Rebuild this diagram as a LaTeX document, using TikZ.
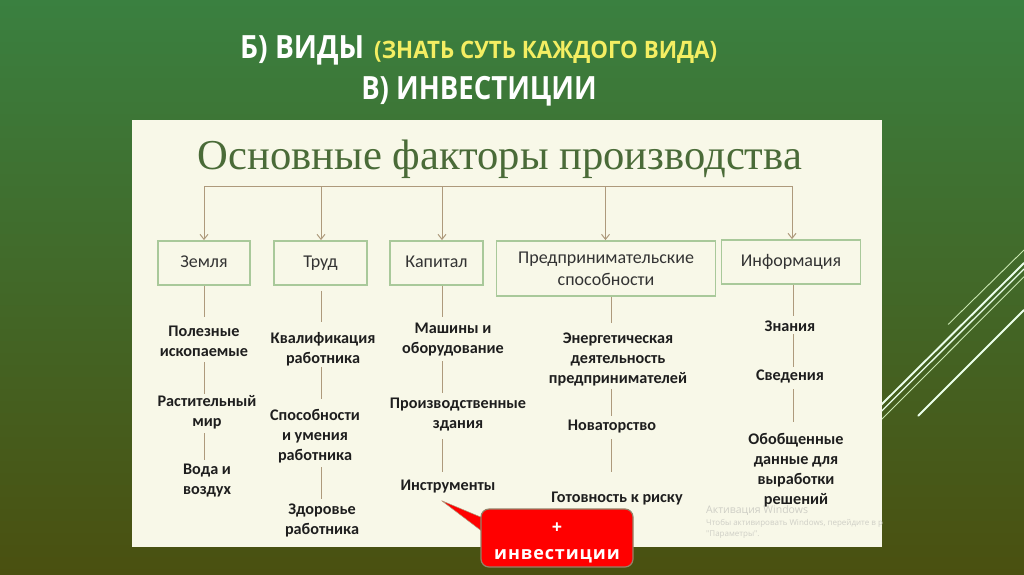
\documentclass[tikz,border=0pt]{standalone}
\usepackage{fontspec}
\setmainfont{Carlito}
\newfontfamily\hdfont{Open Sans}
\newfontfamily\serfont{Liberation Serif}
\usetikzlibrary{arrows.meta,calc}
\definecolor{bgA}{HTML}{3A8040}
\definecolor{bgB}{HTML}{466E28}
\definecolor{bgC}{HTML}{4A5010}
\definecolor{panel}{HTML}{F8F8E8}
\definecolor{boxline}{HTML}{A9C99A}
\definecolor{tan}{HTML}{AE9A7C}
\definecolor{ttl}{HTML}{4A6B38}
\definecolor{ylw}{HTML}{F4EE62}
\definecolor{pale}{HTML}{C8E6B0}
\definecolor{wm}{HTML}{CFCFC6}
\definecolor{ink}{HTML}{1E1E1E}
\definecolor{ink2}{HTML}{333333}
\tikzset{
  catbox/.style={draw=boxline,line width=1.8pt,fill=panel,inner sep=0pt,align=center,text=ink2,
    font=\fontsize{18}{22}\selectfont},
  item/.style={inner sep=0pt,align=center,text=ink,yshift=-1.5pt,font=\fontsize{16.2}{20}\selectfont\bfseries},
  one/.style={item,minimum height=18pt},
  two/.style={item,minimum height=38pt},
  three/.style={item,minimum height=58pt},
  four/.style={item,minimum height=78pt},
  arr/.style={draw=tan,line width=1pt,-{Straight Barb[length=5pt,width=8pt]}},
  stem/.style={draw=tan,line width=1pt},
  slash/.style={line cap=round}
}
\newcommand{\stemline}[5]{\draw[stem,shorten <=#4pt,shorten >=#5pt] (#1.south -| #3) -- (#2.north -| #3);}
\begin{document}
\begin{tikzpicture}[x=1pt,y=-1pt]
\useasboundingbox (0,0) rectangle (1024,574);
\shade[top color=bgA,middle color=bgB,bottom color=bgC] (0,0) rectangle (1024,574);
% decorative lines
\draw[white!92!green,line width=1.9pt,slash] (881,405) -- (1024,263);
\draw[white!92!green,line width=1.3pt,slash] (881,411.7) -- (1024,269);
\draw[pale,line width=0.9pt,slash] (881,420) -- (1024,276.7);
\draw[pale,line width=0.9pt,slash] (948.3,324.3) -- (1024,250);
\draw[white!92!green,line width=1.9pt,slash] (918.3,415.7) -- (1024,310);
% heading
\node[anchor=base west,inner sep=0pt,text=white,font=\hdfont\bfseries\fontsize{32}{38}\selectfont] (hA) at (240,58) {\scalebox{.88}[1]{Б) ВИДЫ}};
\node[anchor=base west,inner sep=0pt,text=ylw,font=\hdfont\bfseries\fontsize{24}{30}\selectfont] (hB) at (374,58) {\scalebox{.93}[1]{(ЗНАТЬ СУТЬ КАЖДОГО ВИДА)}};
\node[anchor=base,inner sep=0pt,text=white,font=\hdfont\bfseries\fontsize{32}{38}\selectfont] (hC) at (479,99) {\scalebox{.86}[1]{В) ИНВЕСТИЦИИ}};
% panel
\fill[panel] (132,120) rectangle (882,547);
\begin{scope}
\clip (132,120) rectangle (882,547);
\node[anchor=base west,inner sep=0pt,text=wm,font=\hdfont\fontsize{10.5}{12}\selectfont] (wA) at (706,513) {Активация Windows};
\node[anchor=base west,inner sep=0pt,text=wm,font=\hdfont\fontsize{8}{9}\selectfont] (wB) at (706,525) {Чтобы активировать Windows, перейдите в раздел};
\node[anchor=base west,inner sep=0pt,text=wm,font=\hdfont\fontsize{8}{9}\selectfont] (wC) at (706,536) {"Параметры".};
\end{scope}
\node[inner sep=0pt,minimum height=54pt,text=ttl,font=\serfont\fontsize{42.6}{46}\selectfont] (title) at (500,159) {Основные факторы производства};
% column x positions
\coordinate (c1) at (204,0);
\coordinate (c2) at (321,0);
\coordinate (c3) at (442,0);
\coordinate (c4) at (605.5,0);
\coordinate (c4b) at (611.5,0);
\coordinate (c5) at (792,0);
\coordinate (c5b) at (793,0);
% category boxes
\node[catbox,minimum width=92pt,minimum height=44pt] (zem) at (204,263) {\strut Земля};
\node[catbox,minimum width=93pt,minimum height=44pt] (tru) at (320.5,263) {\strut Труд};
\node[catbox,minimum width=93pt,minimum height=44pt] (kap) at (436.5,263) {\strut Капитал};
\node[catbox,minimum width=219pt,minimum height=55pt] (pre) at (606,268.5) {Предпринимательские\\способности};
\node[catbox,minimum width=139pt,minimum height=44pt] (inf) at (791,262) {\strut Информация};
% top bar and arrows
\draw[stem] (title.south -| c1) -- (title.south -| c5);
\draw[arr] (title.south -| c1) -- (zem.north -| c1);
\draw[arr] (title.south -| c2) -- (tru.north -| c2);
\draw[arr] (title.south -| c3) -- (kap.north -| c3);
\draw[arr] (title.south -| c4) -- (pre.north -| c4);
\draw[arr] (title.south -| c5) -- (inf.north -| c5);
% items
\node[two] (a1) at (204,340) {Полезные\\ископаемые};
\node[two] (a2) at (207,411) {Растительный\\мир};
\node[two] (a3) at (207,479.5) {Вода и\\воздух};
\node[two] (b1) at (323,348) {Квалификация\\работника};
\node[three] (b2) at (315,435) {Способности\\и умения\\работника};
\node[two] (b3) at (322,519) {Здоровье\\работника};
\node[two] (d1) at (453,338) {Машины и\\оборудование};
\node[two] (d2) at (458,413) {Производственные\\здания};
\node[one] (d3) at (448,485) {Инструменты};
\node[three] (e1) at (618,358) {Энергетическая\\деятельность\\предпринимателей};
\node[one] (e2) at (612,425) {Новаторство};
\node[one] (e3) at (617,497) {Готовность к риску};
\node[one] (f1) at (790,325) {Знания};
\node[one] (f2) at (790,375) {Сведения};
\node[four] (f3) at (796,469) {Обобщенные\\данные для\\выработки\\решений};
% stems
\stemline{zem}{a1}{c1}{0}{5.5}
\stemline{a1}{a2}{c1}{1.5}{-0.5}
\stemline{a2}{a3}{c1}{1.5}{2}
\stemline{tru}{b1}{c2}{5}{8.5}
\stemline{b1}{b2}{c2}{-1.5}{8.5}
\stemline{b2}{b3}{c2}{1.5}{2.5}
\stemline{kap}{d1}{c3}{0}{3.5}
\stemline{d1}{d2}{c3}{2.5}{2.5}
\stemline{d2}{d3}{c3}{5.5}{5.5}
\stemline{pre}{e1}{c4b}{0}{7.5}
\stemline{e1}{e2}{c4b}{0.5}{1.5}
\stemline{e2}{e3}{c4b}{3.5}{17.5}
\stemline{inf}{f1}{c5b}{0}{1.5}
\stemline{f1}{f2}{c5b}{-1.5}{0.8}
\stemline{f2}{f3}{c5b}{3.5}{9.5}
% callout
\coordinate (tip) at (441.7,500.7);
\fill[red,draw=tan,line width=0.5pt,line join=round] (tip) -- (483,518) -- (483,532) -- cycle;
\node[fill=red,draw=tan!85!black,line width=1.2pt,rounded corners=8pt,minimum width=152pt,minimum height=58pt,inner sep=0pt] (inv) at (557,538) {};
\node[inner sep=0pt,align=center,text=white,font=\hdfont\bfseries\fontsize{18}{26}\selectfont] (invt) at (557,543)
  {+\\\addfontfeature{LetterSpace=5}инвестиции};
\end{tikzpicture}
\end{document}
